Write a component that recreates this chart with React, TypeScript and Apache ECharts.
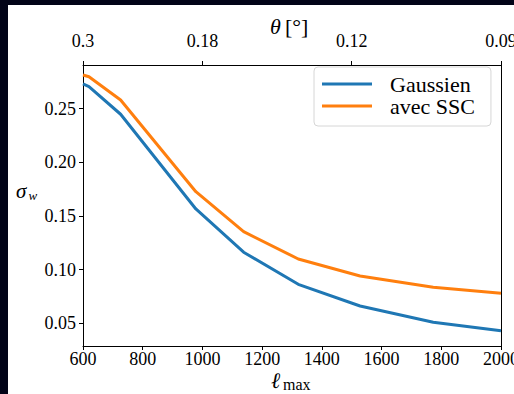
import React, { useEffect, useRef } from "react";
import * as echarts from "echarts";

const ellMax = [600, 620, 726, 978, 1138, 1321, 1528, 1773, 2000];
const gaussien = [0.273, 0.2705, 0.2448, 0.1565, 0.1162, 0.0863, 0.0661, 0.0509, 0.0431];
const avecSSC = [0.2814, 0.2798, 0.2581, 0.1726, 0.1354, 0.1099, 0.0941, 0.0836, 0.078];
const yTicks = [0.05, 0.1, 0.15, 0.2, 0.25];
const topTickValues = [600, 1000, 1500, 2000];
const topTickLabels = ["0.3", "0.18", "0.12", "0.09"];
const seriesNames = ["Gaussien", "avec SSC"];

const SERIF = "Liberation Serif, serif";

export default function App() {
  const ref = useRef<HTMLDivElement>(null);
  useEffect(() => {
    document.body.style.margin = "0";
    const chart = echarts.init(ref.current!, null, { renderer: "svg" });
    const axisLineStyle = { color: "#000", width: 1 };
    const labelStyle = { color: "#000", fontSize: 18, fontFamily: SERIF };
    chart.setOption({
      animation: false,
      textStyle: { fontFamily: SERIF },
      grid: { left: 83, top: 65, width: 418, height: 281, containLabel: false, outerBoundsMode: "none" },
      legend: {
        show: true,
        orient: "vertical",
        left: 314,
        top: 67,
        padding: [6, 16, 9, 8],
        itemWidth: 50,
        itemHeight: 3,
        itemGap: 0,
        icon: "rect",
        borderColor: "#d6d6d6",
        borderWidth: 1,
        borderRadius: 4,
        backgroundColor: "#fff",
        textStyle: {
          color: "#000",
          fontSize: 22,
          fontFamily: SERIF,
          lineHeight: 22,
          padding: [0, 0, 0, 13],
        },
        data: seriesNames,
      },
      xAxis: [
        {
          type: "value",
          position: "bottom",
          min: 600,
          max: 2000,
          interval: 200,
          axisLine: { show: true, lineStyle: axisLineStyle },
          axisTick: { show: true, length: 4, lineStyle: axisLineStyle },
          axisLabel: {
            ...labelStyle,
            margin: 4,
            showMinLabel: true,
            showMaxLabel: true,
            hideOverlap: false,
            formatter: (v: number) => String(v),
          },
          splitLine: { show: false },
        },
        {
          type: "value",
          position: "top",
          min: 600,
          max: 2000,
          axisLine: { show: true, lineStyle: axisLineStyle },
          axisTick: { show: true, length: 4, lineStyle: axisLineStyle, customValues: topTickValues },
          axisLabel: {
            ...labelStyle,
            margin: 15,
            customValues: topTickValues,
            showMinLabel: true,
            showMaxLabel: true,
            formatter: (v: number) => {
              const i = topTickValues.indexOf(v);
              return i >= 0 ? topTickLabels[i] : "";
            },
          },
          splitLine: { show: false },
        },
      ],
      yAxis: [
        {
          type: "value",
          position: "left",
          min: 0.0288,
          max: 0.2907,
          axisLine: { show: true, lineStyle: axisLineStyle },
          axisTick: { show: true, length: 4, lineStyle: axisLineStyle, customValues: yTicks },
          axisLabel: {
            ...labelStyle,
            margin: 7,
            customValues: yTicks,
            formatter: (v: number) => v.toFixed(2),
          },
          splitLine: { show: false },
        },
        {
          type: "value",
          position: "right",
          min: 0.0288,
          max: 0.2907,
          axisLine: { show: true, lineStyle: axisLineStyle },
          axisTick: { show: false },
          axisLabel: { show: false },
          splitLine: { show: false },
        },
      ],
      series: [
        {
          name: seriesNames[0],
          type: "line",
          data: ellMax.map((x, i) => [x, gaussien[i]]),
          showSymbol: false,
          symbol: "none",
          lineStyle: { color: "#1f77b4", width: 3 },
          itemStyle: { color: "#1f77b4" },
        },
        {
          name: seriesNames[1],
          type: "line",
          data: ellMax.map((x, i) => [x, avecSSC[i]]),
          showSymbol: false,
          symbol: "none",
          lineStyle: { color: "#ff7f0e", width: 3 },
          itemStyle: { color: "#ff7f0e" },
        },
      ],
      graphic: [
        {
          type: "text",
          x: 270,
          y: 26.5,
          style: { text: "θ", font: `italic 22px ${SERIF}`, fill: "#000", verticalAlign: "middle" },
        },
        {
          type: "text",
          x: 285,
          y: 26.5,
          style: { text: "[°]", font: `22px ${SERIF}`, fill: "#000", verticalAlign: "middle" },
        },
        {
          type: "text",
          x: 16,
          y: 191,
          style: { text: "σ", font: `italic 21px ${SERIF}`, fill: "#000", verticalAlign: "middle" },
        },
        {
          type: "text",
          x: 28.5,
          y: 195.5,
          style: { text: "w", font: `italic 13px ${SERIF}`, fill: "#000", verticalAlign: "middle" },
        },
        {
          type: "text",
          x: 271,
          y: 380.5,
          style: { text: "ℓ", font: `italic 22px ${SERIF}`, fill: "#000", verticalAlign: "middle" },
        },
        {
          type: "text",
          x: 283,
          y: 384.5,
          style: { text: "max", font: `16px ${SERIF}`, fill: "#000", verticalAlign: "middle" },
        },
      ],
    });
    return () => chart.dispose();
  }, []);

  return (
    <div style={{ position: "relative", width: 514, height: 394, background: "#020418", overflow: "hidden" }}>
      <div style={{ position: "absolute", left: 8, top: 5, width: 506, height: 389, background: "#fff" }} />
      <div ref={ref} style={{ position: "absolute", left: 0, top: 0, width: 514, height: 394 }} />
    </div>
  );
}
